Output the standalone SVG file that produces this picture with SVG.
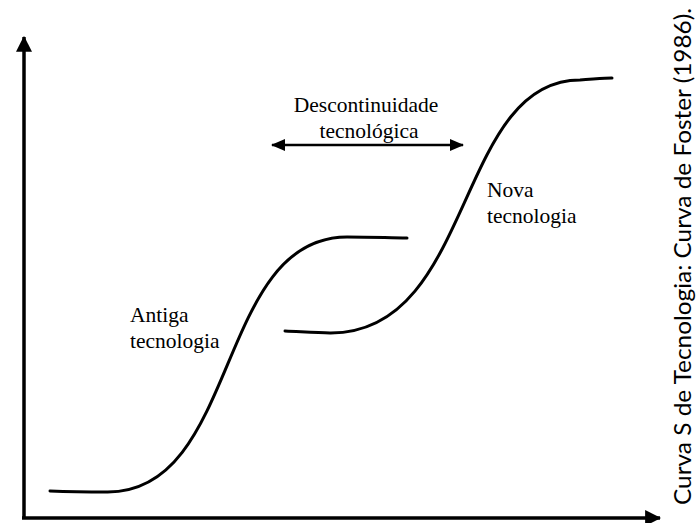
<svg xmlns="http://www.w3.org/2000/svg" width="697" height="523" viewBox="0 0 697 523">
<style>
.axis{stroke:#000;stroke-width:3.5;fill:none}
.curve{stroke:#000;stroke-width:3;fill:none;stroke-linecap:round}
.lbl{font-family:"Liberation Serif","Times New Roman",serif;font-size:21.5px;fill:#000}
.cap{font-family:Lato,"Noto Sans",sans-serif;font-size:24px;fill:#000}
</style>
<defs>
<marker id="ah" markerUnits="userSpaceOnUse" markerWidth="16" markerHeight="16" viewBox="0 0 14 14" refX="13" refY="7" orient="auto-start-reverse">
<path d="M0,0 L14,7 L0,14 Z" fill="#000"/>
</marker>
<marker id="ah2" markerUnits="userSpaceOnUse" markerWidth="14" markerHeight="14" viewBox="0 0 14 12" refX="13" refY="6" orient="auto-start-reverse">
<path d="M0,0 L14,6 L0,12 Z" fill="#000"/>
</marker>
</defs>
<g id="connectors">
<path id="y-axis" class="axis" d="M24,518 L24,37" marker-end="url(#ah)"/>
<path id="x-axis" class="axis" d="M22,518 L660,518" marker-end="url(#ah)"/>
<path id="discontinuity-arrow" d="M272,145 L463,145" stroke="#000" stroke-width="2.5" marker-start="url(#ah2)" marker-end="url(#ah2)"/>
</g>
<g id="old-technology">
<path class="curve" d="M50,491 C75,492 90,492 107,492 C240,493 215,237 347,237 C375,237 390,238 407,238"/>
<text class="lbl" x="130" y="322">Antiga</text>
<text class="lbl" x="130" y="348">tecnologia</text>
</g>
<g id="new-technology">
<path class="curve" d="M285,331 C305,332 318,333 330,333 C475,334 455,80 580,80 C595,79 605,78 612,78"/>
<text class="lbl" x="487" y="197">Nova</text>
<text class="lbl" x="487" y="223">tecnologia</text>
</g>
<g id="discontinuity">
<text class="lbl" x="366" y="112" text-anchor="middle">Descontinuidade</text>
<text class="lbl" x="369" y="138" text-anchor="middle">tecnológica</text>
</g>
<g id="caption">
<text class="cap" transform="translate(691,505) rotate(-90)" x="0" y="0" textLength="497" lengthAdjust="spacingAndGlyphs">Curva S de Tecnologia: Curva de Foster (1986).</text>
</g>
</svg>
